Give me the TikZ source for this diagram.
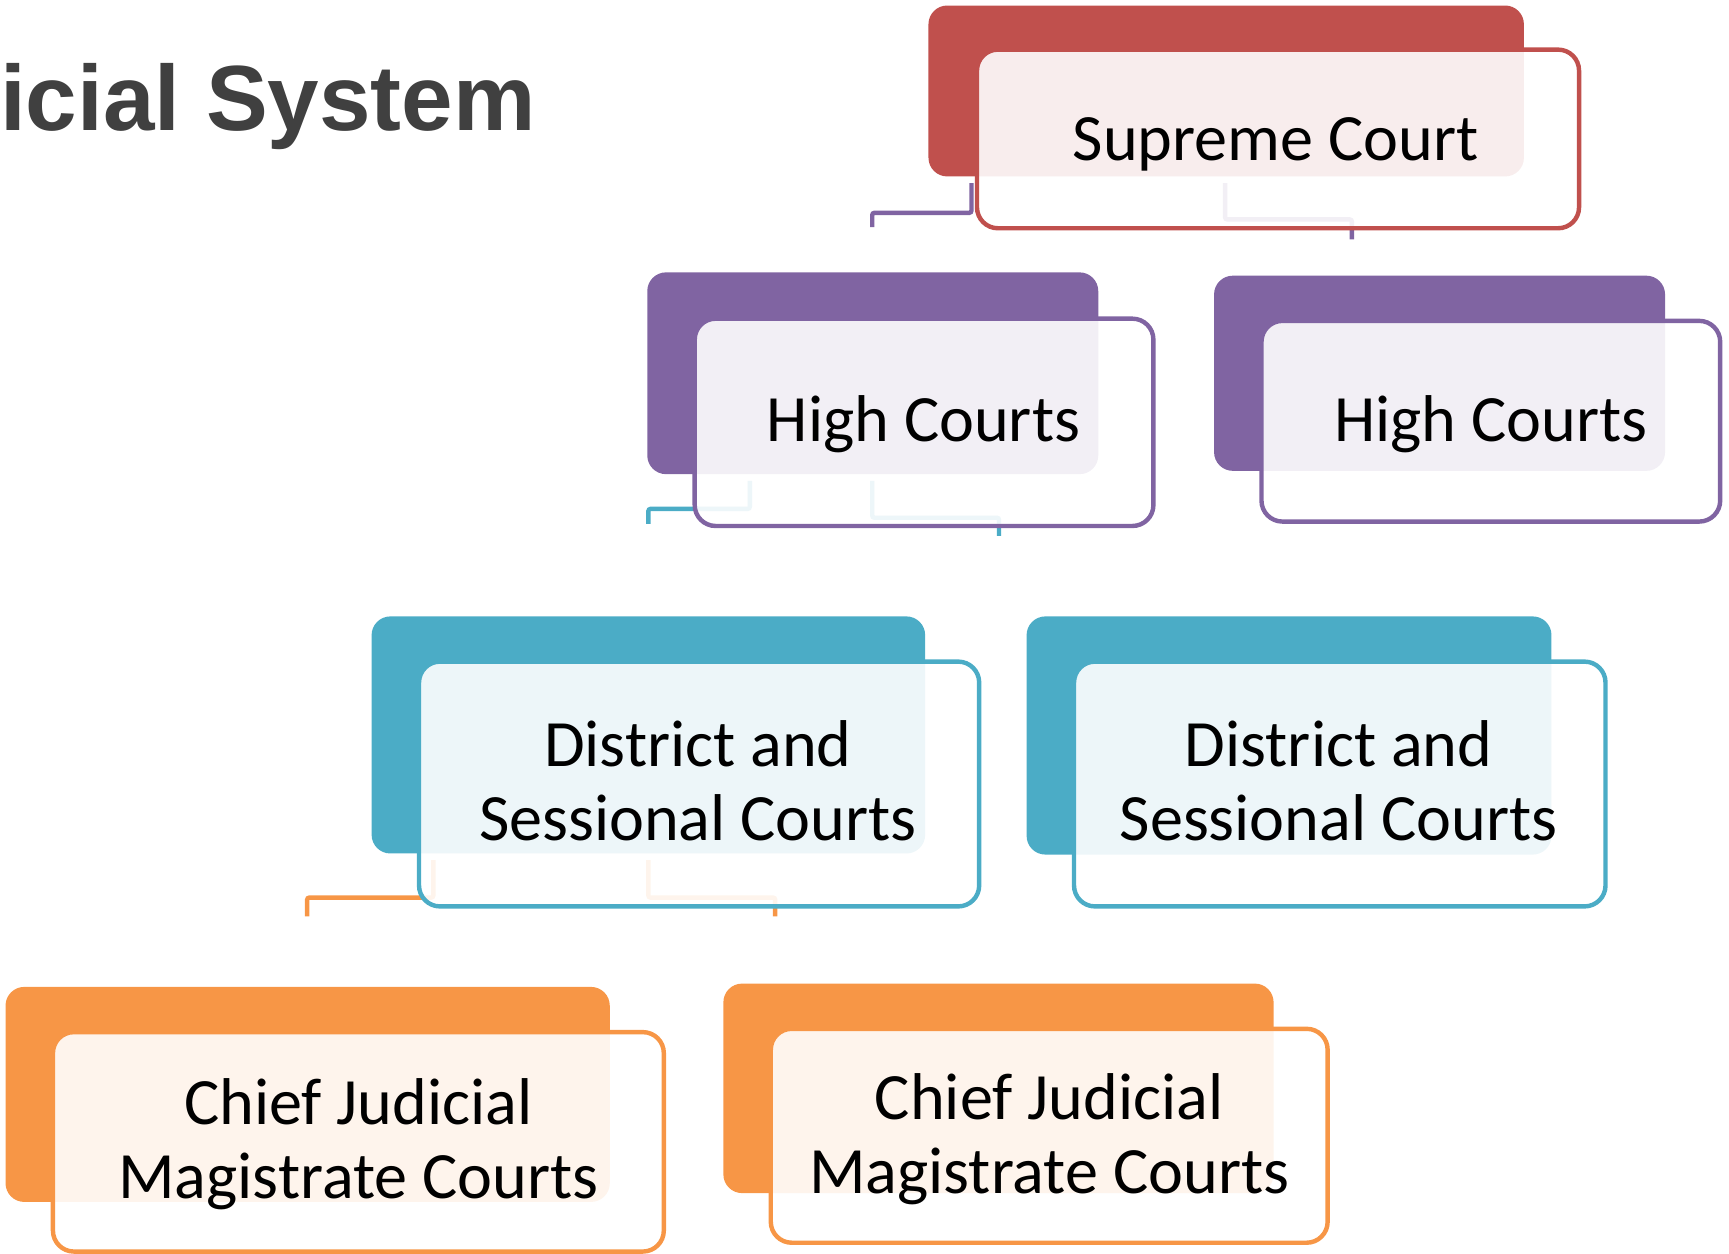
\documentclass[tikz,border=0pt]{standalone}
\usepackage{fontspec}
\setmainfont{Carlito}
\newfontfamily\titlefont{Liberation Sans}
\definecolor{cRed}{HTML}{C0504D}
\definecolor{cPurple}{HTML}{8064A2}
\definecolor{cTeal}{HTML}{4BACC6}
\definecolor{cOrange}{HTML}{F79646}
\definecolor{cTitle}{HTML}{404040}
\begin{document}
\begin{tikzpicture}[x=1pt,y=-1pt,
  backbox/.style={draw=none, fill=#1, rounded corners=17pt, inner sep=0pt, outer sep=0pt},
  frontbox/.style={draw=#1, line width=4pt, fill=white, fill opacity=0.9, rounded corners=19pt, inner sep=0pt, outer sep=0pt},
  boxtext/.style={font=\fontsize{60}{67}\selectfont, text=black, align=center, inner sep=0pt, anchor=base},
  link/.style={draw=#1, line width=4pt, rounded corners=2pt}
]
\useasboundingbox (0,0) rectangle (1568,1137);

% title
\node[font=\titlefont\bfseries\fontsize{84}{96}\selectfont, text=cTitle, anchor=base west, inner sep=0pt] (title) at (0,118) {icial System};

% back boxes
\node[backbox=cRed, minimum width=540pt, minimum height=155pt] (scB) at (1112,82.5) {};
\node[backbox=cPurple, minimum width=409pt, minimum height=183pt] (hcaB) at (791.5,338.5) {};
\node[backbox=cPurple, minimum width=409pt, minimum height=177pt] (hcbB) at (1305.5,338.5) {};
\node[backbox=cTeal, minimum width=502pt, minimum height=215pt] (dsaB) at (588,666.5) {};
\node[backbox=cTeal, minimum width=476pt, minimum height=216pt] (dsbB) at (1169,667) {};
\node[backbox=cOrange, minimum width=548pt, minimum height=195pt] (cjaB) at (279,992.5) {};
\node[backbox=cOrange, minimum width=499pt, minimum height=190pt] (cjbB) at (905.5,987) {};

% connector ends
\coordinate (e1) at (791,206);
\coordinate (e2) at (1226,217);
\coordinate (e3) at (588,475);
\coordinate (e4) at (906,486);
\coordinate (e5) at (278.5,831);
\coordinate (e6) at (703,831);

% connectors
\draw[link=cPurple] ([xshift=-231pt,yshift=-6pt]scB.south) -- ++(0,27) -| (e1);
\draw[link=cPurple] ([xshift=-1pt,yshift=-6pt]scB.south) -- ++(0,33) -| (e2);
\draw[link=cTeal] ([xshift=-111.5pt,yshift=-6pt]hcaB.south) -- ++(0,25.5) -| (e3);
\draw[link=cTeal] ([xshift=-0.5pt,yshift=-6pt]hcaB.south) -- ++(0,33.5) -| (e4);
\draw[link=cOrange] ([xshift=-195pt,yshift=-6pt]dsaB.south) -- ++(0,34) -| (e5);
\draw[link=cOrange] ([xshift=0pt,yshift=-6pt]dsaB.south) -- ++(0,34) -| (e6);

% front boxes
\node[frontbox=cRed, minimum width=546pt, minimum height=162pt] (scF) at (1159,126) {};
\node[frontbox=cPurple, minimum width=416pt, minimum height=188pt] (hcaF) at (838,383) {};
\node[frontbox=cPurple, minimum width=416pt, minimum height=182pt] (hcbF) at (1352,382) {};
\node[frontbox=cTeal, minimum width=508pt, minimum height=222pt] (dsaF) at (634,711) {};
\node[frontbox=cTeal, minimum width=482pt, minimum height=222pt] (dsbF) at (1215,711) {};
\node[frontbox=cOrange, minimum width=554pt, minimum height=199pt] (cjaF) at (325,1035.5) {};
\node[frontbox=cOrange, minimum width=505pt, minimum height=194pt] (cjbF) at (951.5,1030) {};

% texts (base anchor = baseline of last line)
\node[boxtext] (scT) at (1157,146) {Supreme Court};
\node[boxtext] (hcaT) at (837.5,400) {High Courts};
\node[boxtext] (hcbT) at (1352,400) {High Courts};
\node[boxtext] (dsaT) at (633,762) {District and\\Sessional Courts};
\node[boxtext] (dsbT) at (1214,762) {District and\\Sessional Courts};
\node[boxtext] (cjaT) at (325,1087) {Chief Judicial\\Magistrate Courts};
\node[boxtext] (cjbT) at (951.5,1082) {Chief Judicial\\Magistrate Courts};
\end{tikzpicture}
\end{document}
